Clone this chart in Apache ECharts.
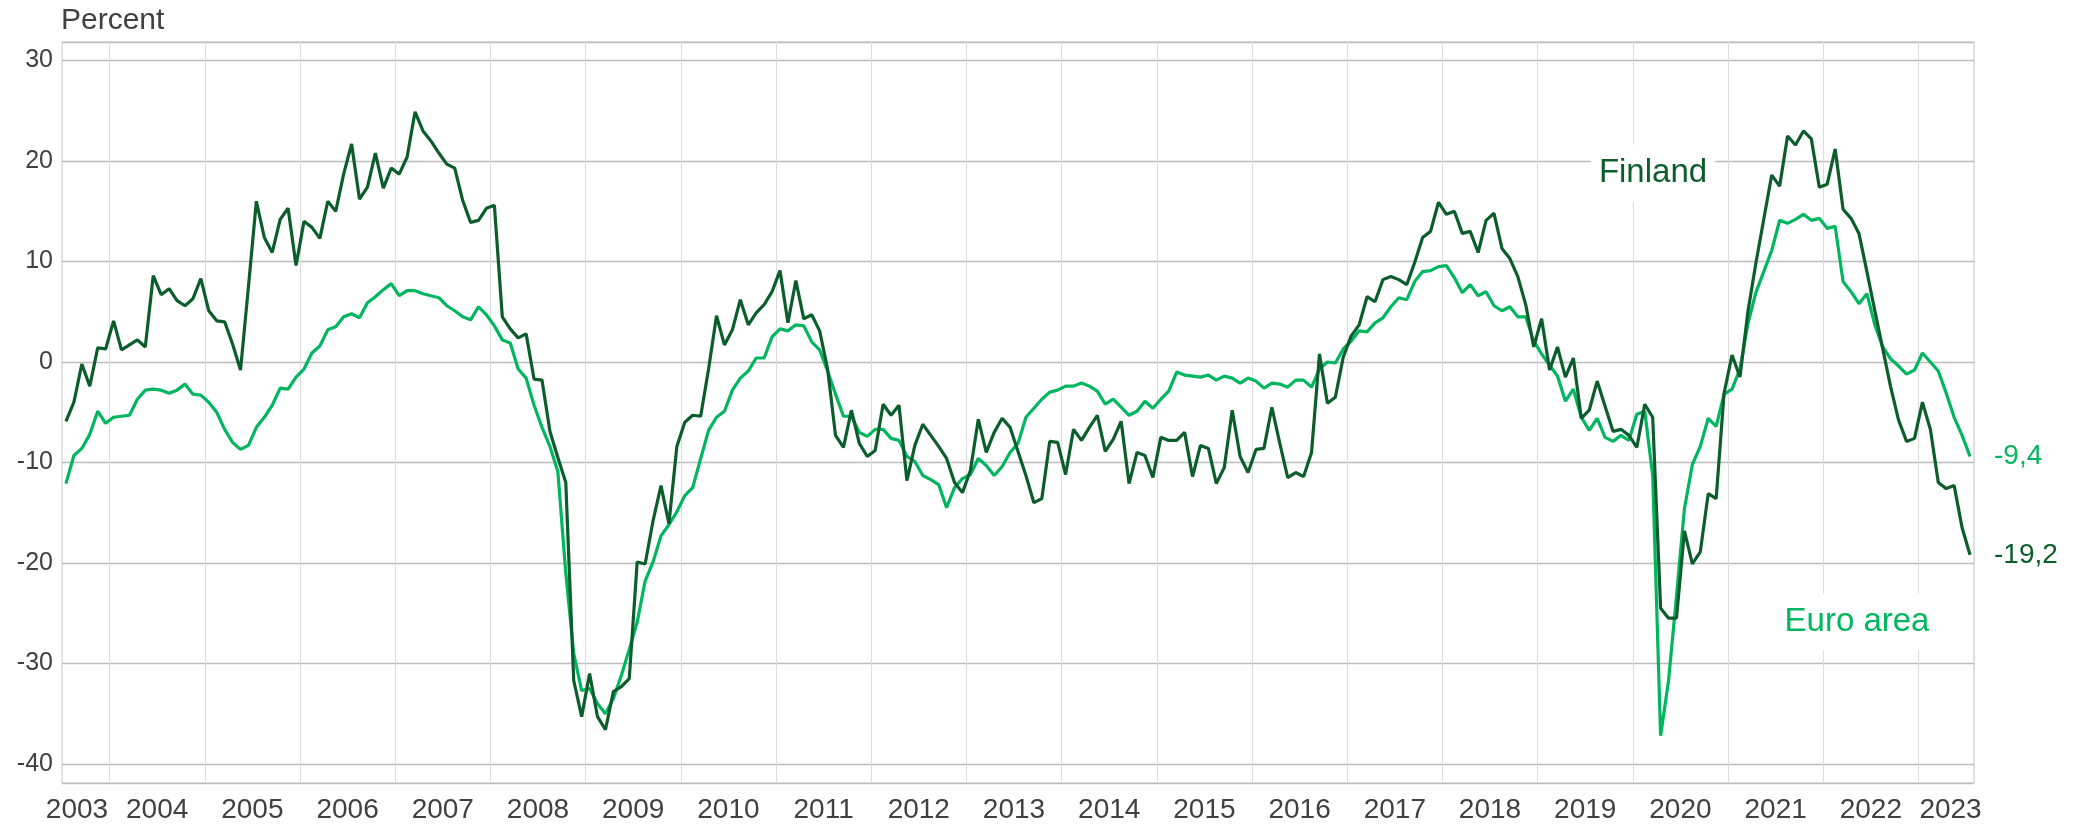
<!DOCTYPE html>
<html>
<head>
<meta charset="utf-8">
<script src="https://cdn.jsdelivr.net/npm/echarts/dist/echarts.min.js"></script>
<style>
html,body{margin:0;padding:0;background:#ffffff;}
#chart{width:2076px;height:827px;}
</style>
</head>
<body>
<div id="chart"></div>
<script>
// Monthly data, July 2003 .. July 2023
const startYear = 2003;
const startMonth = 7;
const years = ['2003','2004','2005','2006','2007','2008','2009','2010','2011','2012','2013',
  '2014','2015','2016','2017','2018','2019','2020','2021','2022','2023'];

const finland = [
  -5.9,-4.0,-0.2,-2.4,1.4,1.3,
  4.1,1.2,1.7,2.2,1.5,8.6,6.7,7.3,6.1,5.6,6.3,8.3,
  5.1,4.1,4.0,1.8,-0.8,7.5,16.0,12.4,10.9,14.2,15.3,9.6,
  14.0,13.4,12.3,16.0,15.0,18.7,21.7,16.2,17.4,20.8,17.3,19.3,
  18.7,20.4,24.9,23.0,22.0,20.8,19.7,19.3,16.1,13.9,14.1,15.3,
  15.6,4.5,3.3,2.4,2.8,-1.7,-1.8,-6.9,-9.5,-12.0,-31.7,-35.3,
  -31.0,-35.3,-36.6,-32.8,-32.3,-31.5,-19.9,-20.1,-15.8,-12.3,-16.1,-8.4,
  -6.0,-5.3,-5.4,-0.7,4.6,1.7,3.2,6.2,3.7,4.9,5.7,7.0,
  9.1,3.9,8.1,4.3,4.7,3.1,-0.7,-7.3,-8.5,-4.8,-8.1,-9.4,
  -8.8,-4.2,-5.3,-4.3,-11.8,-8.3,-6.2,-7.3,-8.4,-9.6,-12.0,-13.0,
  -10.8,-5.7,-9.0,-7.0,-5.6,-6.5,-8.9,-11.3,-14.0,-13.6,-7.9,-8.0,
  -11.2,-6.7,-7.8,-6.5,-5.3,-8.9,-7.7,-5.9,-12.1,-9.0,-9.3,-11.5,
  -7.5,-7.8,-7.8,-7.0,-11.4,-8.3,-8.6,-12.1,-10.5,-4.8,-9.4,-11.0,
  -8.7,-8.6,-4.5,-8.1,-11.5,-11.0,-11.4,-9.0,0.8,-4.1,-3.5,0.5,
  2.6,3.7,6.5,6.0,8.2,8.5,8.2,7.7,9.9,12.4,13.0,15.9,
  14.7,15.0,12.8,13.0,10.9,14.1,14.8,11.3,10.3,8.5,5.7,1.5,
  4.3,-0.8,1.5,-1.5,0.4,-5.6,-4.8,-1.9,-4.4,-6.9,-6.7,-7.3,
  -8.5,-4.2,-5.5,-24.5,-25.5,-25.5,-16.8,-20.1,-18.9,-13.1,-13.6,-3.1,
  0.7,-1.5,5.0,9.8,14.2,18.6,17.5,22.5,21.6,23.0,22.2,17.4,
  17.7,21.2,15.2,14.3,12.8,9.0,5.1,1.3,-2.5,-5.8,-7.9,-7.6,
  -4.0,-6.7,-12.0,-12.6,-12.3,-16.5,-19.2
];

const euroArea = [
  -12.1,-9.3,-8.6,-7.2,-4.9,-6.1,
  -5.5,-5.4,-5.3,-3.7,-2.8,-2.7,-2.8,-3.1,-2.8,-2.2,-3.2,-3.3,
  -4.0,-5.0,-6.7,-8.0,-8.7,-8.3,-6.5,-5.5,-4.3,-2.6,-2.7,-1.5,
  -0.7,0.9,1.6,3.2,3.5,4.5,4.8,4.4,5.9,6.5,7.2,7.8,
  6.6,7.1,7.1,6.8,6.6,6.4,5.6,5.1,4.5,4.2,5.5,4.7,
  3.6,2.2,1.9,-0.7,-1.6,-4.3,-6.5,-8.4,-10.9,-21.0,-29.0,-32.7,
  -32.5,-34.0,-35.0,-33.5,-31.2,-28.6,-25.9,-21.8,-19.9,-17.3,-16.2,-14.9,
  -13.3,-12.5,-9.6,-6.8,-5.5,-4.9,-2.8,-1.6,-0.9,0.4,0.4,2.5,
  3.3,3.1,3.7,3.6,2.0,1.2,-0.9,-3.2,-5.4,-5.4,-7.0,-7.4,
  -6.7,-6.7,-7.6,-7.8,-9.4,-9.9,-11.3,-11.7,-12.2,-14.5,-12.5,-11.6,
  -11.2,-9.6,-10.3,-11.3,-10.4,-9.0,-8.1,-5.5,-4.6,-3.7,-3.0,-2.8,
  -2.4,-2.4,-2.1,-2.4,-2.9,-4.2,-3.7,-4.5,-5.3,-4.9,-3.9,-4.6,
  -3.7,-2.9,-1.0,-1.3,-1.4,-1.5,-1.3,-1.8,-1.4,-1.6,-2.1,-1.6,
  -1.9,-2.6,-2.1,-2.2,-2.5,-1.8,-1.8,-2.5,-0.7,0.0,-0.1,1.3,
  2.1,3.1,3.0,3.9,4.4,5.5,6.4,6.2,8.0,9.0,9.1,9.5,
  9.6,8.4,6.9,7.7,6.6,7.0,5.6,5.1,5.5,4.5,4.5,2.1,
  0.8,-0.3,-1.4,-3.9,-2.7,-5.5,-6.8,-5.6,-7.5,-7.9,-7.3,-7.8,
  -5.2,-4.9,-11.3,-37.2,-31.7,-23.3,-14.6,-10.2,-8.4,-5.6,-6.4,-3.2,
  -2.7,-0.7,3.8,6.9,9.0,11.1,14.1,13.8,14.2,14.7,14.1,14.3,
  13.3,13.5,8.0,7.0,5.8,6.8,3.7,1.5,0.3,-0.4,-1.2,-0.8,
  0.9,0.0,-0.9,-3.1,-5.5,-7.3,-9.4
];

const seriesNames = ['Finland', 'Euro area'];
const unitLabel = 'Percent';
const colorFinland = '#0b5e2b';
const colorEuro = '#00b65e';
const textColor = '#404040';
const FONT = 'Liberation Sans';

const categories = [];
for (let i = 0; i < finland.length; i++) {
  const t = (startMonth - 1) + i;
  const y = startYear + Math.floor(t / 12);
  const m = (t % 12) + 1;
  categories.push(y + '-' + String(m).padStart(2, '0'));
}

const fmt = v => v.toFixed(1).replace('.', ',');
const axFont = {fontFamily: FONT, fontSize: 28, color: textColor};

const chart = echarts.init(document.getElementById('chart'), null, {renderer: 'canvas'});
chart.setOption({
  animation: false,
  backgroundColor: '#ffffff',
  grid: {
    left: 62, right: 102, top: 42, bottom: 44,
    show: true, borderColor: '#c8c8c8', borderWidth: 1, backgroundColor: 'transparent'
  },
  xAxis: {
    type: 'category', data: categories, boundaryGap: true,
    axisLine: {show: false}, axisTick: {show: false},
    splitLine: {show: true, interval: (i, v) => v.endsWith('-01'),
      lineStyle: {color: '#dcdcdc', width: 1}},
    axisLabel: {
      interval: (i, v) => v.endsWith('-07'),
      margin: 13,
      formatter: (v) => {
        const y = v.slice(0, 4);
        if (!years.includes(y)) return '';
        if (y === years[0]) return '{f|' + y + '}';
        if (y === years[years.length - 1]) return '{l|' + y + '}';
        return '{m|' + y + '}';
      },
      rich: {
        m: Object.assign({padding: [0, 8, 0, 0]}, axFont),
        f: Object.assign({padding: [0, 0, 0, 22]}, axFont),
        l: Object.assign({padding: [0, 39, 0, 0]}, axFont)
      }
    }
  },
  yAxis: {
    type: 'value', min: -41.9, max: 31.85, splitNumber: 7,
    axisLine: {show: false}, axisTick: {show: false},
    splitLine: {lineStyle: {color: '#bdbdbd', width: 1.3}},
    axisLabel: {showMinLabel: false, showMaxLabel: false, margin: 9,
      fontFamily: FONT, fontSize: 25, color: textColor}
  },
  series: [
    {
      name: seriesNames[1], type: 'line', data: euroArea, symbol: 'none',
      lineStyle: {color: colorEuro, width: 3.2}, z: 3,
      endLabel: {show: true, distance: 24, formatter: p => fmt(p.value),
        color: colorEuro, fontFamily: FONT, fontSize: 28}
    },
    {
      name: seriesNames[0], type: 'line', data: finland, symbol: 'none',
      lineStyle: {color: colorFinland, width: 3.2}, z: 4,
      endLabel: {show: true, distance: 24, formatter: p => fmt(p.value),
        color: colorFinland, fontFamily: FONT, fontSize: 28}
    }
  ],
  graphic: [
    {type: 'text', x: 61, y: 21, z: 100,
      style: {text: unitLabel, fill: textColor, font: '30px "Liberation Sans"',
        align: 'left', verticalAlign: 'middle'}},
    {type: 'text', x: 1653, y: 173, z: 100,
      style: {text: seriesNames[0], fill: colorFinland, font: '33px "Liberation Sans"',
        align: 'center', verticalAlign: 'middle', backgroundColor: '#ffffff', padding: [12, 8]}},
    {type: 'text', x: 1857, y: 622, z: 100,
      style: {text: seriesNames[1], fill: colorEuro, font: '33px "Liberation Sans"',
        align: 'center', verticalAlign: 'middle', backgroundColor: '#ffffff', padding: [12, 8]}}
  ]
});
</script>
</body>
</html>
